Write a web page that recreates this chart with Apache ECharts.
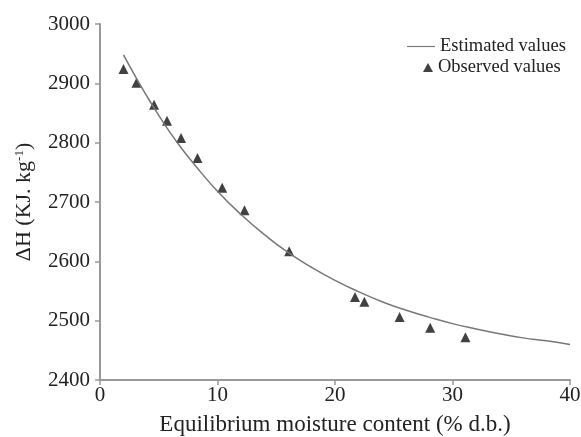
<!DOCTYPE html>
<html><head><meta charset="utf-8">
<script src="https://cdn.jsdelivr.net/npm/echarts@6/dist/echarts.min.js"></script>
<style>html,body{margin:0;padding:0;background:#fff}#c{width:581px;height:437px}</style>
</head><body><div id="c"></div>
<script>
const curveX = [2,3,4,5,6,7,8,10,12,14,16,18,20,22,24,26,28,30,32,34,36,38,40];
const curveY = [2948,2912,2878,2846,2816,2789,2764,2718,2679,2645,2615,2590,2568,2549,2532,2518,2506,2495,2486,2478,2471,2466,2460];
const obsX = [2.0,3.1,4.6,5.7,6.9,8.3,10.4,12.3,16.1,21.7,22.5,25.5,28.1,31.1];
const obsY = [2924,2901,2864,2837,2808,2774,2724,2686,2617,2540,2532,2506,2488,2472];
const xTicks = [0,10,20,30,40];
const yTicks = [2400,2500,2600,2700,2800,2900,3000];

const font = '"Liberation Serif","Times New Roman",serif';
const chart = echarts.init(document.getElementById('c'));
chart.setOption({
  animation:false,
  backgroundColor:'#fff',
  textStyle:{fontFamily:font},
  grid:{left:100,right:11,top:24,bottom:57,containLabel:false,outerBoundsMode:'none'},
  legend:[
    {left:402, top:32, itemWidth:28, itemHeight:10,
     textStyle:{fontFamily:font,fontSize:18.5,color:'#222'},
     data:[{name:'Estimated values',icon:'path://M0,5 L30,5 L30,6.2 L0,6.2 Z'}]},
    {left:418, top:53, itemWidth:10, itemHeight:9,
     textStyle:{fontFamily:font,fontSize:18.5,color:'#222'},
     data:[{name:'Observed values',icon:'triangle'}]}
  ],
  xAxis:{
    type:'value', min:xTicks[0], max:xTicks[xTicks.length-1], interval:10,
    name:'Equilibrium moisture content (% d.b.)', nameLocation:'middle', nameGap:33,
    nameTextStyle:{fontFamily:font,fontSize:23,color:'#222'},
    axisLine:{lineStyle:{color:'#999',width:2}},
    axisTick:{show:true,length:5,lineStyle:{color:'#999',width:1.5}},
    axisLabel:{fontFamily:font,fontSize:21,color:'#222',margin:5,formatter:v=>String(v)},
    splitLine:{show:false}
  },
  yAxis:{
    type:'value', min:yTicks[0], max:yTicks[yTicks.length-1], interval:100,
    name:'{a|ΔH (KJ. kg}{s|-1}{a|)}', nameLocation:'middle', nameGap:64,
    nameTextStyle:{rich:{a:{fontFamily:font,fontSize:22,color:'#222'},s:{fontFamily:font,fontSize:13,color:'#222',verticalAlign:'top',padding:[0,0,10,0]}}},
    axisLine:{show:true,lineStyle:{color:'#999',width:2}},
    axisTick:{show:true,length:5,lineStyle:{color:'#999',width:1.5}},
    axisLabel:{fontFamily:font,fontSize:21,color:'#222',margin:10,formatter:v=>String(v)},
    splitLine:{show:false}
  },
  series:[
    {name:'Estimated values',type:'line',smooth:true,showSymbol:false,symbol:'none',
     lineStyle:{color:'#777',width:1.5},itemStyle:{color:'#777'},
     data:curveX.map((x,i)=>[x,curveY[i]])},
    {name:'Observed values',type:'scatter',symbol:'triangle',symbolSize:10,
     itemStyle:{color:'#111'},
     data:obsX.map((x,i)=>[x,obsY[i]])}
  ]
});
</script></body></html>
